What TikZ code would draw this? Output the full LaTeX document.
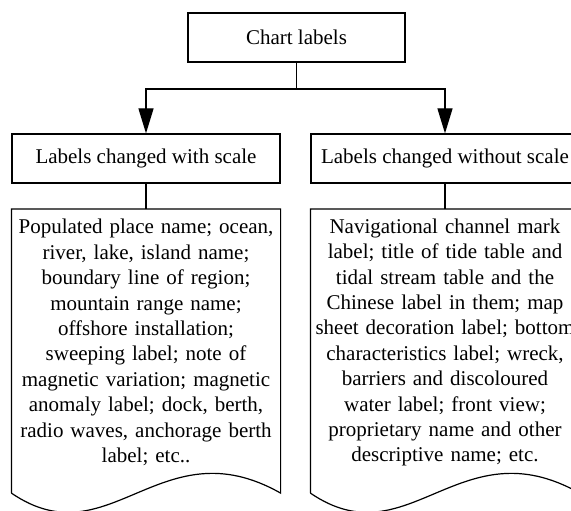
\documentclass[tikz,border=0pt]{standalone}
\usepackage{fontspec}
\setmainfont{Liberation Serif}
\usetikzlibrary{arrows.meta}
\begin{document}
\begin{tikzpicture}[x=1pt,y=-1pt,
  line width=1.2pt,
  every node/.style={font=\fontsize{21}{23}\selectfont},
  box/.style={draw, rectangle, inner sep=0pt, minimum height=49pt},
  docframe/.style={rectangle, draw=none, inner sep=0pt, minimum width=268pt, minimum height=283pt},
  doctext/.style={text width=330pt, align=center, inner sep=0pt},
  arr/.style={-{Triangle[length=25pt,width=15pt]}}
]
\useasboundingbox (0,0) rectangle (571,511);
\clip (0,0) rectangle (571,511);

\node[box, minimum width=217pt] (top) at (296.5,37.5) {Chart labels};
\node[box, minimum width=268pt] (lbox) at (146,158.5) {Labels changed with scale};
\node[box, minimum width=268pt] (rbox) at (445,158.5) {Labels changed without scale};

\coordinate (j) at (296.5,89);
\draw (top.south) -- (j);
\draw[arr] (j) -| (lbox.north);
\draw[arr] (j) -| (rbox.north);

\node[docframe] (ldoc) at (146,351) {};
\node[docframe] (rdoc) at (445,351) {};

\draw (ldoc.south west) -- (ldoc.north west) -- (ldoc.north east) -- (ldoc.south east)
  .. controls +(-120,-68) and +(98,67) .. (ldoc.south west);
\draw (rdoc.south west) -- (rdoc.north west) -- (rdoc.north east) -- (rdoc.south east)
  .. controls +(-120,-68) and +(98,67) .. (rdoc.south west);

\draw (lbox.south) -- (ldoc.north);
\draw (rbox.south) -- (rdoc.north);

\node[doctext] (ltext) at (146,342.5) {\fontsize{21}{25.4}\selectfont Populated place name; ocean,\\ river, lake, island name;\\ boundary line of region;\\ mountain range name;\\ offshore installation;\\ sweeping label; note of\\ magnetic variation; magnetic\\ anomaly label; dock, berth,\\ radio waves, anchorage berth\\ label; etc..\par};
\node[doctext] (rtext) at (445,342.5) {\fontsize{21}{25.4}\selectfont Navigational channel mark\\ label; title of tide table and\\ tidal stream table and the\\ Chinese label in them; map\\ sheet decoration label; bottom\\ characteristics label; wreck,\\ barriers and discoloured\\ water label; front view;\\ proprietary name and other\\ descriptive name; etc.\par};
\end{tikzpicture}
\end{document}
